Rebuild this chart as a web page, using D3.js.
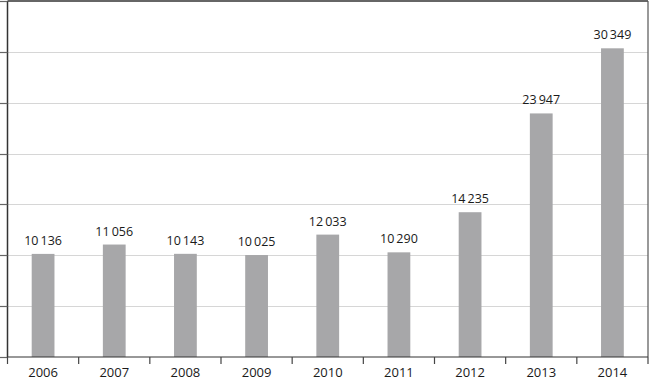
<!DOCTYPE html>
<html>
<head>
<meta charset="utf-8">
<script src="https://cdn.jsdelivr.net/npm/d3@7"></script>
<style>
  body { margin: 0; background: #fff; }
  text { font-family: "Open Sans", sans-serif; fill: #1a1a1a; }
</style>
</head>
<body>
<div id="chart"></div>
<script>
const YEARS = ['2006', '2007', '2008', '2009', '2010', '2011', '2012', '2013', '2014'];
const VALUES = [10136, 11056, 10143, 10025, 12033, 10290, 14235, 23947, 30349];
const Y_TICKS = [0, 5000, 10000, 15000, 20000, 25000, 30000, 35000];

var width = 650, height = 381;
var margin = {top: 1, right: 2, bottom: 24, left: 7.5};

var svg = d3.select("#chart")
            .append("svg")
              .attr("width", width)
              .attr("height", height);

var x = d3.scaleBand()
          .domain(YEARS)
          .range([margin.left, width - margin.right])
          .paddingInner(0.68)
          .paddingOuter(0.34);

// band edges for the category ticks
var step = x.step();
var x0 = margin.left;

var y = d3.scaleLinear()
          .domain([0, 35000])
          .range([height - margin.bottom, margin.top]);
var y0 = y(0);

// gridlines
svg.selectAll("grid")
    .data(Y_TICKS.slice(1, -1))
    .enter().append("line")
    .attr("x1", margin.left).attr("x2", width - margin.right)
    .attr("y1", function(d) { return Math.round(y(d)) + 0.5; })
    .attr("y2", function(d) { return Math.round(y(d)) + 0.5; })
    .style("stroke", "#d6d6d6")
    .style("stroke-width", 1.2);

// bars
svg.selectAll("bar")
    .data(VALUES)
    .enter().append("rect")
    .attr("x", function(d, i) { return x(YEARS[i]); })
    .attr("width", x.bandwidth())
    .attr("y", function(d) { return y(d); })
    .attr("height", function(d) { return y0 - y(d); })
    .style("fill", "#a7a7a9");

// value labels, thin space as thousands separator
var fmt = function(d) { return d3.format(",")(d).replace(/,/g, "\u2009"); };
svg.selectAll("lbl")
    .data(VALUES)
    .enter().append("text")
    .attr("x", function(d, i) { return x(YEARS[i]) + x.bandwidth() / 2; })
    .attr("y", function(d) { return y(d) - 9; })
    .attr("text-anchor", "middle")
    .style("font-size", "12.5px")
    .text(fmt);

// top border
svg.append("line")
    .attr("x1", margin.left).attr("x2", width - margin.right)
    .attr("y1", margin.top).attr("y2", margin.top)
    .style("stroke", "#333").style("stroke-width", 1.5);

// right border
svg.append("line")
    .attr("x1", width - margin.right).attr("x2", width - margin.right)
    .attr("y1", margin.top).attr("y2", y0)
    .style("stroke", "#555").style("stroke-width", 1.2);

// left axis
svg.append("line")
    .attr("x1", margin.left).attr("x2", margin.left)
    .attr("y1", margin.top).attr("y2", y0)
    .style("stroke", "#333").style("stroke-width", 1.5);

// left ticks
svg.selectAll("ytick")
    .data(Y_TICKS)
    .enter().append("line")
    .attr("x1", 0).attr("x2", margin.left)
    .attr("y1", function(d) { return Math.round(y(d)) + 0.5; })
    .attr("y2", function(d) { return Math.round(y(d)) + 0.5; })
    .style("stroke", "#666")
    .style("stroke-width", 1.2);

// baseline
svg.append("line")
    .attr("x1", margin.left).attr("x2", width - margin.right)
    .attr("y1", y0).attr("y2", y0)
    .style("stroke", "#333").style("stroke-width", 1.2);

// category ticks at band edges
svg.selectAll("xtick")
    .data(d3.range(YEARS.length + 1))
    .enter().append("line")
    .attr("x1", function(i) { return x0 + i * step; })
    .attr("x2", function(i) { return x0 + i * step; })
    .attr("y1", y0).attr("y2", y0 + 7)
    .style("stroke", "#444").style("stroke-width", 1.2);

// year labels
svg.selectAll("year")
    .data(YEARS)
    .enter().append("text")
    .attr("x", function(d) { return x(d) + x.bandwidth() / 2; })
    .attr("y", 377)
    .attr("text-anchor", "middle")
    .style("font-size", "13px")
    .text(function(d) { return d; });
</script>
</body>
</html>
